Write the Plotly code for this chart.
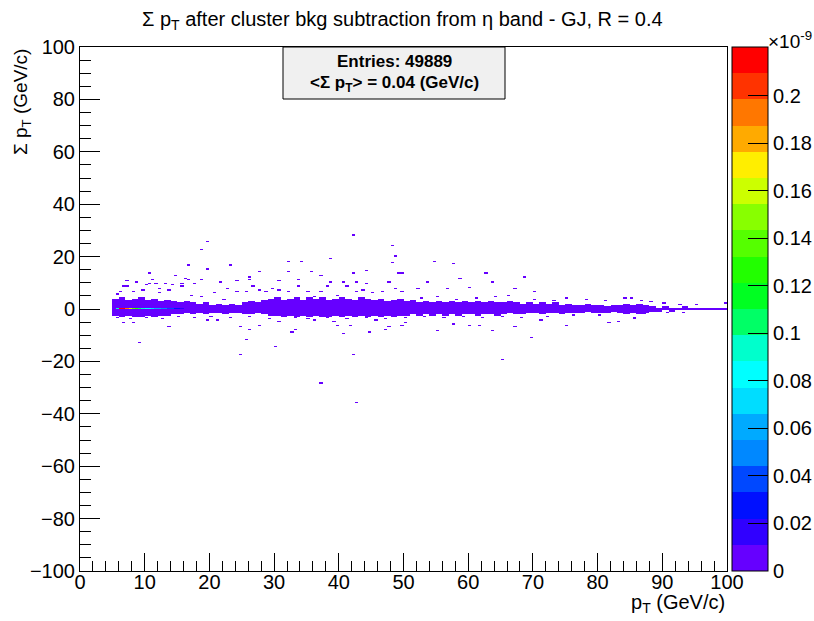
import plotly.graph_objects as go

# ---------------- data ----------------
# histogram binning: pT 0..100 in 0.5 GeV bins, sum pT -100..100 in 0.5 GeV bins
NX, NY = 200, 400
XMIN, XMAX, YMIN, YMAX = 0.0, 100.0, -100.0, 100.0

# dense band: per 1-GeV pT slice (slice start), upper / lower edge of the filled region
band_pt = list(range(5, 100))
band_hi = [4.0,4.5,3.5,4.0,4.5, 3.5,4.0,3.0,3.5,3.0, 2.5,3.0,2.5,2.0,2.5, 1.5,2.0,1.5,2.0,1.5,
           2.5,3.0,2.5,3.5,4.0, 4.5,3.5,4.0,4.5,3.5, 4.5,4.0,4.5,3.5,4.0, 4.5,4.0,3.5,4.5,4.0,
           3.5,4.0,3.0,3.5,4.0, 3.0,3.5,2.5,3.0,2.5, 3.0,2.5,3.0,2.5,3.0, 2.5,3.0,2.5,3.0,2.5,
           2.5,3.0,2.5,2.0,2.5, 2.0,2.5,2.0,2.5,1.5, 2.0,1.5,1.5,2.0,1.5, 1.5,1.0,1.5,1.5,2.0,
           1.5,2.0,1.5,1.0,0.5, 1.0,0.5,0.5,1.0,0.5, 0.5,0.5,0.5,0.5,0.5]
band_lo = [-2.5,-3.0,-2.5,-3.0,-3.0, -2.5,-3.0,-2.5,-2.5,-2.0, -2.0,-1.5,-2.0,-1.5,-2.0, -1.5,-1.5,-2.0,-1.5,-1.5,
           -2.0,-2.0,-1.5,-2.0,-2.5, -2.5,-3.0,-2.5,-3.0,-2.5, -3.0,-2.5,-3.0,-3.0,-2.5, -3.0,-2.5,-3.0,-2.5,-3.0,
           -2.5,-3.0,-2.5,-3.0,-2.5, -2.5,-2.0,-2.5,-2.0,-2.5, -2.0,-2.5,-2.0,-2.5,-2.0, -2.0,-2.5,-2.0,-2.0,-2.5,
           -2.0,-1.5,-2.0,-2.0,-1.5, -1.5,-2.0,-1.5,-1.5,-2.0, -1.5,-1.5,-1.5,-1.0,-1.5, -1.5,-1.5,-1.0,-1.5,-2.0,
           -1.5,-2.0,-1.5,-1.0,-1.0, -0.5,-1.0,-0.5,-0.5,-0.5, -0.5,-0.5,-0.5,-0.5,-0.5]
band_value = 0.005  # (x 1e-9) lowest colour level

# isolated filled cells (pT, sum pT)
cell_pt = [42.3,19.7,18.8,48.3,48.9,48.3,38.8,32.3,34.2,23.2,16.8,19.7,32.3,27.7,35.9,10.7,14.7,37.3,42.3,44.2,49.3,
           7.2,8.8,11.2,16.3,18.8,26.3,26.3,24.2,21.9,30.8,33.8,38.8,40.7,42.8,44.2,47.7,
           9.2,24.7,30.3,25.7,42.3,37.3,42.7,13.7,24.7,26.3,27.7,32.8,33.3,40.7,41.8,39.7,44.8,47.3,49.9,47.8,
           6.7,8.2,19.6,21.1,30.9,36.1,45.7,39.2,
           54.8,57.8,62.8,68.8,58.9,63.9,53.9,49.5,67.4,70.3,56.9,60.3,52.0,65.3,69.8,55.2,63.9,67.4,60.3,61.8,
           75.3,81.8,50.4,57.8,71.1,83.3,85.9,85.3,85.8,
           10.3,12.4,13.9,15.5,17.0,18.6,20.6,22.2,22.7,24.2,25.8,26.8,27.8,28.9,29.9,30.9,32.0,33.5,35.1,36.1,
           37.1,38.1,39.7,41.2,42.8,43.8,45.4,46.9,48.5,49.7,
           7.4,6.7,10.6,11.9,13.4,14.4,15.7,17.8,6.0,5.5,8.0,9.5,12.0,16.5,11.3,
           5.5,7.5,10.0,12.5,15.0,17.5,20.0,23.0,26.0,29.0,33.0,35.0,38.0,41.0,44.0,47.0,50.0,53.0,56.0,59.0,
           62.0,65.0,68.0,72.0,76.0,80.0,87.0,90.5,93.0,
           52.5,55.0,58.0,61.0,64.0,66.0,70.0,73.0,75.0,78.0,81.0,84.0,88.0,90.0,92.5,95.0,99.5,86.5]
cell_sumpt = [28.0,25.8,22.5,24.3,20.0,17.7,19.3,18.3,18.3,16.7,16.7,15.0,14.0,14.0,14.0,13.5,12.8,12.8,13.5,14.5,13.5,
              10.7,10.2,11.3,11.8,11.3,12.3,11.3,10.7,10.2,10.7,11.3,10.2,10.2,10.2,9.6,10.2,
              -13.0,-17.3,-14.1,-11.8,-17.3,-28.1,-35.6,-7.0,-7.0,-8.0,-6.5,-8.7,-8.0,-9.2,-6.2,-6.2,-8.7,-8.0,-6.5,-7.0,
              -5.5,-5.5,-4.3,-4.3,-4.8,-4.3,-4.3,-4.8,
              18.3,17.3,13.5,12.3,11.8,10.2,10.2,13.5,7.5,6.5,7.5,8.0,7.7,-19.5,-10.8,-8.1,-8.1,-7.0,-6.5,-6.5,
              -6.5,-5.5,-5.5,-6.0,-4.4,-4.9,-3.9,4.3,-3.3,
              9.2,7.9,7.3,8.5,5.4,4.7,6.0,3.5,7.9,6.6,6.6,8.5,7.3,6.6,7.9,7.3,6.6,8.5,6.6,4.7,
              6.6,8.5,5.4,8.5,6.6,7.3,6.0,6.6,7.9,6.6,
              8.5,8.5,9.5,9.5,9.5,9.2,9.5,9.5,6.5,5.5,6.5,7.0,6.0,11.0,11.3,
              -3.5,-4.0,-3.5,-4.0,-3.0,-3.5,-3.0,-3.5,-3.0,-4.0,-3.5,-4.0,-3.5,-4.0,-3.5,-4.0,-3.5,-3.0,-3.5,-3.0,
              -3.5,-3.0,-3.5,-3.0,-2.5,-2.5,-2.0,-1.5,-1.5,
              4.0,4.5,3.5,4.0,4.5,5.0,3.5,3.0,4.0,3.5,3.0,4.0,2.5,2.0,1.5,1.5,2.0,3.0]

# the populated sum pT = 0 row at low pT (values x 1e-9)
hot_pt = [5.5,6.0,6.5,7.0,7.5,8.0,8.5,9.0,9.5,10.0,10.5,11.0,11.5,12.0,12.5,13.0,13.5,14.0,14.5,15.0,15.5]
hot_value = [0.09,0.215,0.212,0.19,0.165,0.14,0.125,0.105,0.092,0.085,0.08,0.072,0.066,0.06,0.05,0.045,0.04,
             0.035,0.03,0.025,0.02]
hot_sumpt = 0.0

# colour palette: 20 levels, bottom to top
palette = ["#6600ff","#3000ff","#0010ff","#0048ff","#0088ff","#00aaff","#00ddff","#00ffff","#00ffcc","#00ff66",
           "#00ff22","#22ff00","#55ff00","#88ff00","#ccff00","#ffee00","#ffaa00","#ff7700","#ff3300","#ff0000"]
z_max = 0.2206
cbar_ticks = [0,0.02,0.04,0.06,0.08,0.1,0.12,0.14,0.16,0.18,0.2]
cbar_ticktext = ["0","0.02","0.04","0.06","0.08","0.1","0.12","0.14","0.16","0.18","0.2"]

entries = 49889
mean_sumpt = 0.04

# ---------------- build histogram ----------------
dx = (XMAX - XMIN) / NX
dy = (YMAX - YMIN) / NY
xc = [XMIN + dx * (i + 0.5) for i in range(NX)]
yc = [YMIN + dy * (j + 0.5) for j in range(NY)]
z = [[None] * NX for _ in range(NY)]

def ix(p):
    return min(NX - 1, max(0, int((p - XMIN) / dx)))

def iy(s):
    return min(NY - 1, max(0, int((s - YMIN) / dy)))

for p0, hi, lo in zip(band_pt, band_hi, band_lo):
    for i in range(ix(p0), ix(p0 + 1.0 - 1e-6) + 1):
        for j in range(iy(lo), iy(hi - 1e-6) + 1):
            z[j][i] = band_value

for p, s in zip(cell_pt, cell_sumpt):
    z[iy(s)][ix(p)] = band_value

for p, v in zip(hot_pt, hot_value):
    z[iy(hot_sumpt)][ix(p)] = v

n = len(palette)
cscale = []
for k, c in enumerate(palette):
    cscale.append([k / n, c])
    cscale.append([(k + 1) / n, c])

# ---------------- layout geometry (pixels) ----------------
W, H = 814, 621
ML, MR, MT, MB = 80, 0, 47, 50
PW, PH = W - ML - MR, H - MT - MB
PLOT_RIGHT = 727

def px(xp):
    return (xp - ML) / PW

def py(yp):
    return (H - MB - yp) / PH

FONT = "Liberation Sans Narrow, Liberation Sans, Arial, sans-serif"

fig = go.Figure(go.Heatmap(
    x=xc, y=yc, z=z, zmin=0, zmax=z_max, colorscale=cscale, hoverongaps=False,
    colorbar=dict(
        x=px(732), xanchor="left", y=0.5, yanchor="middle", len=1.0, lenmode="fraction",
        thickness=36, thicknessmode="pixels", outlinewidth=1, outlinecolor="black",
        tickmode="array", tickvals=cbar_ticks, ticktext=cbar_ticktext,
        ticks="inside", ticklen=20, tickcolor="black", tickwidth=1,
        tickfont=dict(family=FONT, size=20, color="black"), xpad=0, ypad=0,
    ),
))

fig.update_layout(
    width=W, height=H,
    margin=dict(l=ML, r=MR, t=MT, b=MB, autoexpand=False),
    paper_bgcolor="white", plot_bgcolor="white",
    font=dict(family=FONT, color="black"),
    showlegend=False,
)
fig.update_xaxes(
    domain=[0, px(PLOT_RIGHT)],
    range=[XMIN, XMAX], tickmode="linear", tick0=0, dtick=10,
    ticks="inside", ticklen=18, tickcolor="black", tickwidth=1,
    minor=dict(dtick=2, ticks="inside", ticklen=10, tickcolor="black", tickwidth=1, showgrid=False),
    showgrid=False, zeroline=False, showline=True, linecolor="black", linewidth=1, mirror=True,
    tickfont=dict(family=FONT, size=20, color="black"), ticklabelstandoff=-7,
)
fig.update_yaxes(
    range=[YMIN, YMAX], tickmode="linear", tick0=-100, dtick=20,
    ticks="inside", ticklen=20, tickcolor="black", tickwidth=1,
    minor=dict(dtick=5, ticks="inside", ticklen=11, tickcolor="black", tickwidth=1, showgrid=False),
    showgrid=False, zeroline=False, showline=True, linecolor="black", linewidth=1, mirror=True,
    tickfont=dict(family=FONT, size=20, color="black"),
)

ann = []
ann.append(dict(text="Σ p<sub>T</sub> after cluster bkg subtraction from η band - GJ, R = 0.4",
                xref="paper", yref="paper", x=px(402), y=py(20), xanchor="center", yanchor="middle",
                showarrow=False, font=dict(family=FONT, size=20, color="black")))
ann.append(dict(text="p<sub>T</sub> (GeV/c)", xref="paper", yref="paper", x=px(PLOT_RIGHT), y=py(603),
                xanchor="right", yanchor="middle", showarrow=False,
                font=dict(family=FONT, size=20, color="black")))
ann.append(dict(text="Σ p<sub>T</sub> (GeV/c)", xref="paper", yref="paper", x=px(22), y=py(47),
                xanchor="center", yanchor="top", textangle=-90, showarrow=False,
                font=dict(family=FONT, size=19, color="black")))
ann.append(dict(text="×10<sup>-9</sup>", xref="paper", yref="paper", x=px(766), y=py(40),
                xanchor="left", yanchor="middle", showarrow=False,
                font=dict(family=FONT, size=19, color="black")))
ann.append(dict(text="<b>Entries: %d</b>" % entries, xref="paper", yref="paper", x=px(394), y=py(62),
                xanchor="center", yanchor="middle", showarrow=False,
                font=dict(family=FONT, size=17, color="black")))
ann.append(dict(text="<b><Σ p<sub>T</sub>> = %.2f (GeV/c)</b>" % mean_sumpt, xref="paper", yref="paper",
                x=px(394), y=py(84), xanchor="center", yanchor="middle", showarrow=False,
                font=dict(family=FONT, size=17, color="black")))
fig.update_layout(annotations=ann)

fig.add_shape(type="rect", xref="paper", yref="paper", x0=px(283), x1=px(505), y0=py(99), y1=py(47),
              fillcolor="#f0f0f0", line=dict(color="black", width=1), layer="above")

fig.write_html("out.html")
